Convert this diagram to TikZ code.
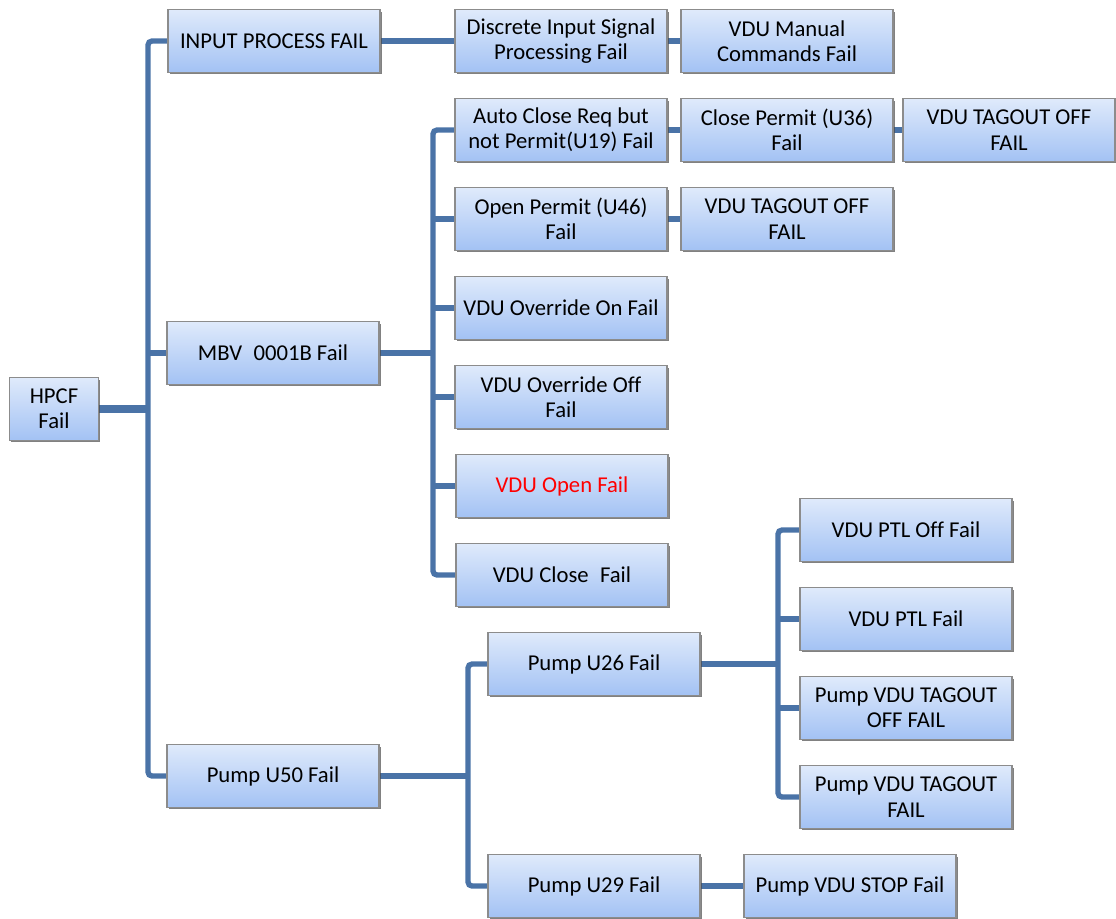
\documentclass[tikz,border=0pt]{standalone}
\usepackage{fontspec}
\setmainfont[Ligatures=CommonOff]{Carlito}
\usetikzlibrary{shadows,backgrounds}
\definecolor{boxtop}{HTML}{DFEAFB}
\definecolor{boxbot}{HTML}{A3C2F4}
\definecolor{linec}{HTML}{4A73A7}
\definecolor{boxedge}{HTML}{8C8C8C}
\tikzset{
  box/.style={draw=boxedge, line width=0.9pt, top color=boxtop, bottom color=boxbot,
    minimum width=159pt, minimum height=47pt, inner sep=1pt, align=center,
    font=\fontsize{17}{19}\selectfont,
    drop shadow={shadow xshift=1.2pt, shadow yshift=-1.6pt, fill=black!70, opacity=0.7}},
  conn/.style={draw=linec, line width=4pt, rounded corners=3pt},
  thickconn/.style={conn, line width=6pt},
}
\begin{document}
\begin{tikzpicture}[x=0.75pt,y=-0.75pt]
\useasboundingbox (0,0) rectangle (1116,918);
% buses
\coordinate (b1) at (148,0);
\coordinate (b2) at (433,0);
\coordinate (b3) at (468,0);
\coordinate (b4) at (778,0);
% nodes
\node[box, minimum width=67pt] (hpcf) at (54,409) {HPCF\\Fail};
\node[box] (inp) at (274,41) {INPUT PROCESS FAIL};
\node[box] (mbv) at (273,353) {MBV\enspace0001B Fail};
\node[box] (u50) at (273,776) {Pump U50 Fail};
\node[box] (dis) at (561,41) {Discrete Input Signal\\Processing Fail};
\node[box] (man) at (787,41) {VDU Manual\\Commands Fail};
\node[box] (auto) at (561,130) {Auto Close Req but\\not Permit(U19) Fail};
\node[box] (cp) at (787,130) {Close Permit (U36)\\Fail};
\node[box] (tag1) at (1009,130) {VDU TAGOUT OFF\\FAIL};
\node[box] (op) at (561,219) {Open Permit (U46)\\Fail};
\node[box] (tag2) at (787,219) {VDU TAGOUT OFF\\FAIL};
\node[box] (oon) at (561,308) {VDU Override On Fail};
\node[box] (ooff) at (561,397) {VDU Override Off\\Fail};
\node[box, text=red] (vopen) at (562,486) {VDU Open Fail};
\node[box] (vclose) at (562,575) {VDU Close\enspace Fail};
\node[box] (u26) at (594,664) {Pump U26 Fail};
\node[box] (u29) at (594,886) {Pump U29 Fail};
\node[box] (ptloff) at (906,530) {VDU PTL Off Fail};
\node[box] (ptl) at (906,619) {VDU PTL Fail};
\node[box] (ptag1) at (906,708) {Pump VDU TAGOUT\\OFF FAIL};
\node[box] (ptag2) at (906,797) {Pump VDU TAGOUT\\FAIL};
\node[box] (stop) at (850,886) {Pump VDU STOP Fail};
% connectors
\begin{scope}[on background layer]
\draw[thickconn] (hpcf.east) -- (hpcf.east -| b1);
\draw[conn] (inp.west) -- (inp.west -| b1) -- (u50.west -| b1) -- (u50.west);
\draw[conn] (mbv.west -| b1) -- (mbv.west);
\draw[conn] (inp.east) -- (dis.west);
\draw[conn] (dis.east) -- (man.west);
\draw[conn] (mbv.east) -- (mbv.east -| b2);
\draw[conn] (auto.west) -- (auto.west -| b2) -- (vclose.west -| b2) -- (vclose.west);
\draw[conn] (op.west -| b2) -- (op.west);
\draw[conn] (oon.west -| b2) -- (oon.west);
\draw[conn] (ooff.west -| b2) -- (ooff.west);
\draw[conn] (vopen.west -| b2) -- (vopen.west);
\draw[conn] (auto.east) -- (cp.west);
\draw[conn] (cp.east) -- (tag1.west);
\draw[conn] (op.east) -- (tag2.west);
\draw[conn] (u50.east) -- (u50.east -| b3);
\draw[conn] (u26.west) -- (u26.west -| b3) -- (u29.west -| b3) -- (u29.west);
\draw[conn] (u29.east) -- (stop.west);
\draw[conn] (u26.east) -- (u26.east -| b4);
\draw[conn] (ptloff.west) -- (ptloff.west -| b4) -- (ptag2.west -| b4) -- (ptag2.west);
\draw[conn] (ptl.west -| b4) -- (ptl.west);
\draw[conn] (ptag1.west -| b4) -- (ptag1.west);
\end{scope}
\end{tikzpicture}
\end{document}
